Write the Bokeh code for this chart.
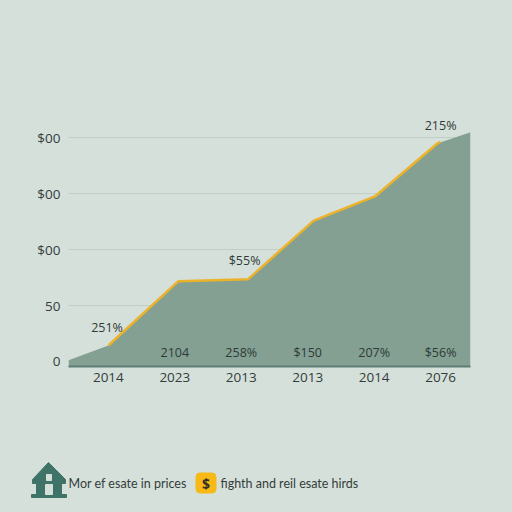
from bokeh.plotting import figure
from bokeh.models import FixedTicker, Range1d
from bokeh.core.properties import value
from bokeh.embed import file_html
from bokeh.resources import INLINE

BG = "#d6e0da"
FONT = value("Open Sans")

# chart data
area_x = [-0.6, 0.0, 1.05, 2.1, 3.09, 4.02, 4.95, 5.45]
area_y = [1, 14.3, 71.7, 73.5, 126, 148, 195, 205]
line_x = [0.0, 1.05, 2.1, 3.09, 4.02, 4.95, 5.0]
line_y = [14.3, 71.7, 73.5, 126, 148, 195, 196.5]
year_labels = ["2014", "2023", "2013", "2013", "2014", "2076"]
y_ticks = [0, 50, 100, 150, 200]
y_labels = ["0", "50", "$00", "$00", "$00"]
inner_x = [1, 2, 3, 4, 5]
inner_y = [8, 8, 8, 8, 8]
inner_text = ["2104", "258%", "$150", "207%", "$56%"]
callout_x = [-0.02, 2.05, 5.0]
callout_y = [30, 90, 211]
callout_text = ["251%", "$55%", "215%"]

p = figure(width=512, height=420, output_backend="svg", toolbar_location=None,
           x_range=Range1d(-0.6, 5.45), y_range=Range1d(-4.5, 323),
           min_border_left=68, min_border_right=42, min_border_top=0, min_border_bottom=54,
           background_fill_color=None, border_fill_color=None, outline_line_color=None)

p.varea(x=area_x, y1=[-4.5] * len(area_x), y2=area_y, fill_color="#83a093")
p.line(line_x, line_y, line_color="#ecb32a", line_width=2.5, line_join="round")
p.text(inner_x, inner_y, text=inner_text, text_font=FONT, text_font_size="12.5px",
       text_color="#2f3a38", text_align="center", text_baseline="middle")
p.text(callout_x, callout_y, text=callout_text, text_font=FONT, text_font_size="12.5px",
       text_color="#2f3a38", text_align="center", text_baseline="middle")

p.xaxis.ticker = FixedTicker(ticks=list(range(6)))
p.xaxis.major_label_overrides = {i: t for i, t in enumerate(year_labels)}
p.xaxis.axis_line_color = "#5f7d74"
p.xaxis.axis_line_width = 2
p.xaxis.major_tick_line_color = None
p.xaxis.minor_tick_line_color = None
p.xaxis.major_label_standoff = 0
p.xaxis.major_label_text_font = "Open Sans"
p.xaxis.major_label_text_font_size = "13.5px"
p.xaxis.major_label_text_color = "#333d3b"

p.yaxis.ticker = FixedTicker(ticks=y_ticks)
p.yaxis.major_label_overrides = dict(zip(y_ticks, y_labels))
p.yaxis.axis_line_color = None
p.yaxis.major_tick_line_color = None
p.yaxis.minor_tick_line_color = None
p.yaxis.major_label_standoff = 2
p.yaxis.major_label_text_font = "Open Sans"
p.yaxis.major_label_text_font_size = "13.5px"
p.yaxis.major_label_text_color = "#333d3b"

p.xgrid.visible = False
p.ygrid.ticker = FixedTicker(ticks=y_ticks[1:])
p.ygrid.grid_line_color = "#c2cfc9"
p.ygrid.grid_line_width = 1

# legend strip, drawn in page pixels
HOUSE = "#3f7368"
roof_x = [32, 48, 65, 65, 61, 61, 36, 36, 32]
roof_y = [479, 462, 479, 483, 483, 494, 494, 483, 483]
base_x = [31, 66, 66, 31]
base_y = [494, 494, 497, 497]
door_x = [45, 52, 52, 45]
door_y = [484, 484, 494, 494]
window_x = [46, 51, 51, 46]
window_y = [474, 474, 480, 480]
legend_text_x = [68, 220]
legend_text_y = [483, 483]
legend_text = ["Mor ef esate in prices", "fighth and reil esate hirds"]

lg = figure(width=512, height=92, output_backend="svg", toolbar_location=None,
            x_range=Range1d(0, 512), y_range=Range1d(512, 420),
            min_border=0, background_fill_color=None, border_fill_color=None,
            outline_line_color=None)
lg.axis.visible = False
lg.grid.visible = False
lg.patch(roof_x, roof_y, fill_color=HOUSE, line_color=HOUSE)
lg.patch(base_x, base_y, fill_color=HOUSE, line_color=HOUSE)
lg.patch(door_x, door_y, fill_color=BG, line_color=BG)
lg.patch(window_x, window_y, fill_color=BG, line_color=BG)
lg.rect([205.5], [482.5], width=20, height=20, fill_color="#f7b916", line_color="#f7b916",
        line_width=1, border_radius=4)
lg.text([205.5], [483], text=["$"], text_font=FONT, text_font_size="14px", text_color="#33302a",
        text_font_style="bold", text_align="center", text_baseline="middle")
lg.text(legend_text_x, legend_text_y, text=legend_text, text_font=value("Lato"), text_font_size="12.5px",
        text_color="#333d3b", text_align="left", text_baseline="middle")

html = file_html((p, lg), INLINE)
css = f"<style>html,body{{margin:0!important;padding:0;background:{BG}!important;overflow:hidden}}</style>"
html = html.replace("</head>", css + "</head>", 1)
open("out.html", "w").write(html)
